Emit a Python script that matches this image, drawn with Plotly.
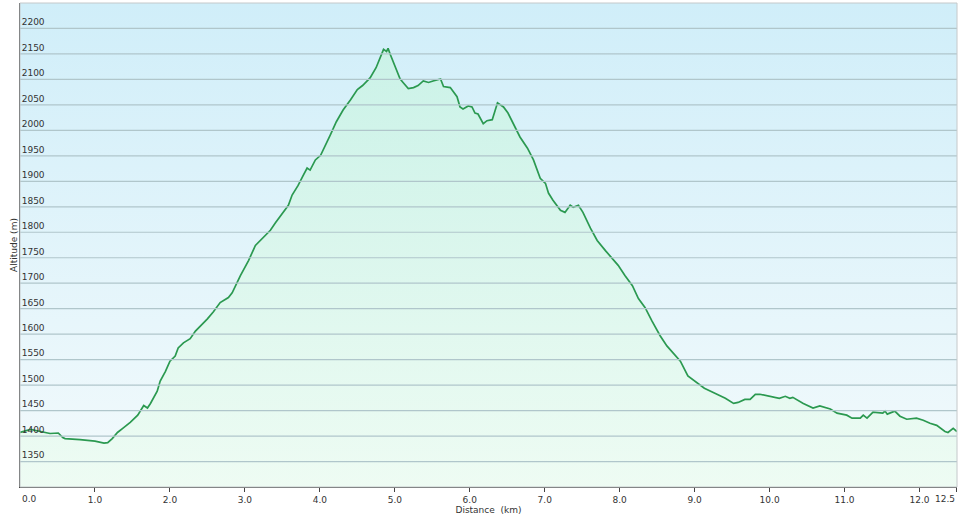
import plotly.graph_objects as go

dist_km = [0.0, 0.14, 0.4, 0.51, 0.57, 0.6, 0.8, 1.0, 1.12, 1.17, 1.23, 1.3, 1.37, 1.47, 1.57,
           1.65, 1.7, 1.74, 1.83, 1.87, 1.94, 2.0, 2.07, 2.11, 2.18, 2.27, 2.34, 2.41, 2.5,
           2.58, 2.67, 2.78, 2.83, 2.94, 3.05, 3.14, 3.21, 3.27, 3.34, 3.41, 3.5, 3.58, 3.63,
           3.71, 3.78, 3.83, 3.87, 3.94, 4.01, 4.07, 4.14, 4.22, 4.31, 4.41, 4.5, 4.57, 4.67,
           4.75, 4.81, 4.85, 4.89, 4.91, 4.94, 4.98, 5.07, 5.11, 5.18, 5.25, 5.31, 5.38, 5.45,
           5.51, 5.61, 5.65, 5.74, 5.83, 5.87, 5.91, 5.98, 6.03, 6.07, 6.11, 6.18, 6.23, 6.3,
           6.37, 6.45, 6.51, 6.58, 6.67, 6.77, 6.85, 6.94, 7.01, 7.05, 7.11, 7.21, 7.27, 7.34,
           7.38, 7.45, 7.51, 7.61, 7.7, 7.81, 7.9, 7.98, 8.07, 8.17, 8.25, 8.34, 8.43, 8.54,
           8.63, 8.71, 8.81, 8.91, 9.03, 9.13, 9.27, 9.41, 9.52, 9.58, 9.67, 9.74, 9.81, 9.87,
           10.13, 10.21, 10.27, 10.31, 10.45, 10.58, 10.67, 10.81, 10.9, 11.03, 11.1, 11.21,
           11.25, 11.3, 11.38, 11.51, 11.54, 11.57, 11.67, 11.74, 11.83, 11.96, 12.05, 12.14,
           12.23, 12.34, 12.38, 12.45, 12.5]
altitude_m = [1407, 1413, 1405, 1406, 1397, 1395, 1393, 1390, 1386, 1387, 1395, 1407, 1415, 1427, 1441,
              1460, 1455, 1464, 1488, 1508, 1527, 1547, 1557, 1573, 1583, 1591, 1606, 1616, 1630,
              1644, 1662, 1672, 1681, 1715, 1745, 1774, 1784, 1792, 1804, 1819, 1837, 1853, 1873,
              1892, 1912, 1926, 1922, 1942, 1951, 1971, 1991, 2017, 2040, 2060, 2080, 2088, 2103,
              2123, 2147, 2159, 2155, 2161, 2149, 2133, 2101, 2094, 2082, 2084, 2088, 2097, 2094,
              2097, 2101, 2086, 2084, 2066, 2046, 2042, 2048, 2046, 2034, 2032, 2013, 2019, 2021,
              2054, 2046, 2034, 2014, 1987, 1965, 1942, 1906, 1896, 1877, 1863, 1843, 1839, 1853,
              1849, 1853, 1839, 1808, 1784, 1764, 1748, 1735, 1715, 1695, 1670, 1652, 1626, 1597,
              1577, 1563, 1547, 1518, 1504, 1494, 1484, 1474, 1464, 1466, 1472, 1472, 1482, 1482,
              1474, 1478, 1474, 1476, 1464, 1455, 1459, 1453, 1445, 1441, 1435, 1435,
              1441, 1435, 1447, 1445, 1449, 1443, 1449, 1439, 1433, 1435, 1431, 1425,
              1421, 1409, 1407, 1415, 1409]

x_tickvals = [0, 1, 2, 3, 4, 5, 6, 7, 8, 9, 10, 11, 12, 12.5]
x_ticktext = ["0.0", "1.0", "2.0", "3.0", "4.0", "5.0", "6.0", "7.0", "8.0", "9.0",
              "10.0", "11.0", "12.0", "12.5"]
y_tickvals = list(range(1350, 2201, 50))

X_MIN, X_MAX = 0, 12.5
Y_MIN, Y_MAX = 1300, 2250

# the two edge labels are drawn as annotations nudged inward, as in the reference
tick_labels = [""] + x_ticktext[1:-1] + [""]

fig = go.Figure()

# background gradient panel
fig.add_trace(go.Scatter(
    x=[X_MIN, X_MAX, X_MAX, X_MIN, X_MIN],
    y=[Y_MIN, Y_MIN, Y_MAX, Y_MAX, Y_MIN],
    mode="none", fill="toself",
    fillgradient=dict(type="vertical", start=Y_MIN, stop=Y_MAX,
                      colorscale=[[0, "#f3fafc"], [1, "#d0eef9"]]),
    hoverinfo="skip", showlegend=False,
))

# gridlines drawn above the background panel
for v in y_tickvals:
    fig.add_shape(type="line", xref="x", yref="y", x0=X_MIN, x1=X_MAX, y0=v, y1=v,
                  line=dict(color="#b0c6cb", width=1.2), layer="above")

# area under the profile
fig.add_trace(go.Scatter(
    x=[dist_km[0]] + dist_km + [dist_km[-1]],
    y=[Y_MIN] + altitude_m + [Y_MIN],
    mode="none", fill="toself",
    fillgradient=dict(type="vertical", start=Y_MIN, stop=2160,
                      colorscale=[[0, "rgba(236,252,240,0.75)"], [1, "rgba(200,243,226,0.75)"]]),
    hoverinfo="skip", showlegend=False,
))

# profile line
fig.add_trace(go.Scatter(
    x=dist_km, y=altitude_m, mode="lines",
    line=dict(color="#2b9950", width=1.7),
    showlegend=False,
))

# light frame
fig.add_shape(type="rect", xref="paper", yref="paper", x0=0, x1=1, y0=0, y1=1,
              line=dict(color="#c4c8ca", width=1), layer="above")

font = dict(family="DejaVu Sans, Verdana, sans-serif", size=9, color="#333333")

fig.add_annotation(x=x_tickvals[0], xref="x", y=0, yref="paper", text=x_ticktext[0],
                   xanchor="left", yanchor="top", yshift=-5, showarrow=False, font=font)
fig.add_annotation(x=x_tickvals[-1], xref="x", y=0, yref="paper", text=x_ticktext[-1],
                   xanchor="right", yanchor="top", yshift=-5, showarrow=False, font=font)

fig.update_layout(
    width=960, height=517,
    margin=dict(l=20, r=3, t=3, b=30, autoexpand=False),
    paper_bgcolor="white", plot_bgcolor="white",
    font=font,
    xaxis=dict(
        range=[X_MIN - 0.0005, X_MAX + 0.0005], tickvals=x_tickvals, ticktext=tick_labels,
        showgrid=False, zeroline=False, automargin=False,
        showline=True, linecolor="#444444", linewidth=1,
        ticks="outside", ticklen=4, tickcolor="#444444",
        ticklabeloverflow="allow",
        tickfont=font,
        title=dict(text="Distance  (km)", font=font, standoff=0),
    ),
    yaxis=dict(
        range=[Y_MIN, Y_MAX], tickvals=y_tickvals,
        showgrid=False, zeroline=False, automargin=False,
        showline=True, linecolor="#444444", linewidth=1,
        ticks="", ticklabelposition="inside top",
        tickfont=font,
        title=dict(text="Altitude (m)", font=font, standoff=2),
    ),
)

fig.write_html(
    "out.html",
    config={"displayModeBar": False},
    post_script="document.body.style.margin='0';document.body.style.overflow='hidden';",
)
